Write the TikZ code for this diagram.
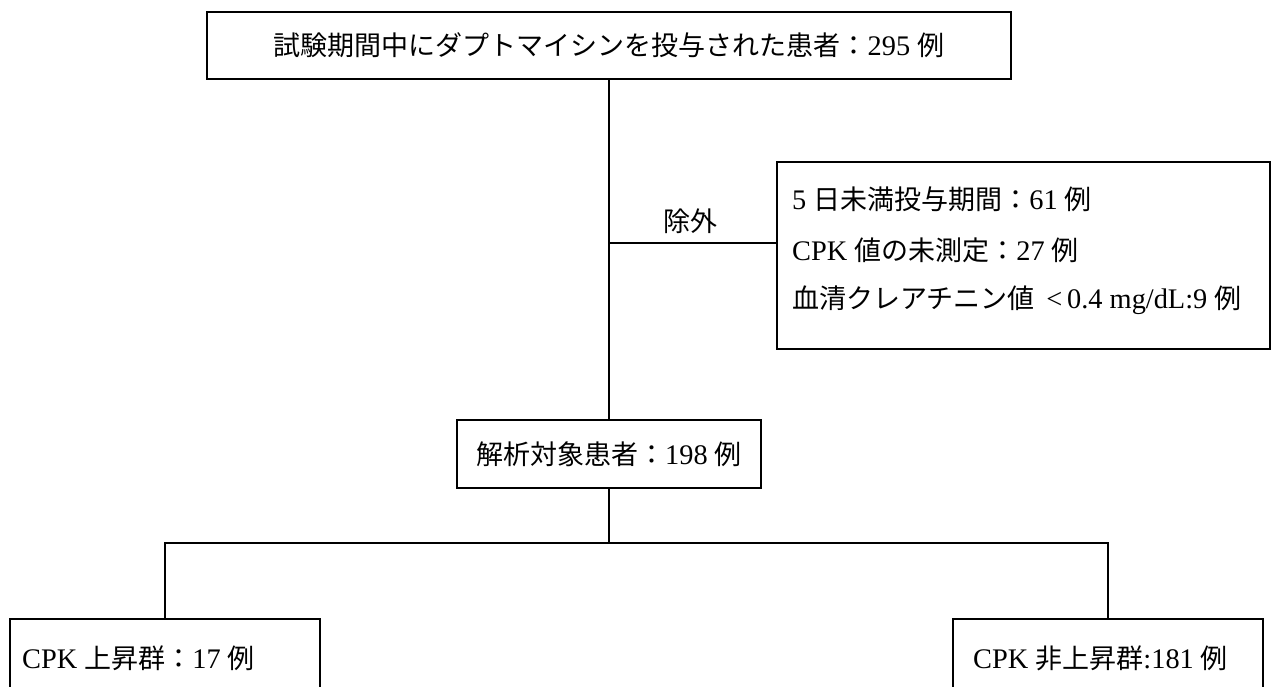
\documentclass[tikz,border=0pt]{standalone}
\usepackage{fontspec}
\setmainfont{Liberation Serif}[Scale=1.05]
\newfontfamily\jpfont{Noto Sans CJK JP}
\newcommand{\jp}[1]{{\jpfont #1}}
\begin{document}
\begin{tikzpicture}[x=1pt,y=-1pt,
  box/.style={draw, line width=1.3pt, inner sep=0pt, font=\fontsize{27}{31}\selectfont},
  lbl/.style={inner sep=0pt, font=\fontsize{27}{31}\selectfont},
  conn/.style={line width=1.3pt}]
\useasboundingbox (0,0) rectangle (1274,687);
\node[box, minimum width=804pt, minimum height=67pt] (top) at (609,45.5)
  {\jp{試験期間中にダプトマイシンを投与された患者：}295 \jp{例}};
\node[box, minimum width=493pt, minimum height=187pt] (excl) at (1023.5,255.5) {};
\node[lbl, anchor=base west] (e1) at (792,210) {5 \jp{日未満投与期間：}61 \jp{例}};
\node[lbl, anchor=base west] (e2) at (792,260) {CPK \jp{値の未測定：}27 \jp{例}};
\node[lbl, anchor=base west] (e3) at (792,308) {\jp{血清クレアチニン値} \,<\,0.4 mg/dL:9 \jp{例}};
\node[box, minimum width=304pt, minimum height=68pt] (mid) at (609,454)
  {\jp{解析対象患者：}198 \jp{例}};
\node[box, minimum width=310pt, minimum height=80pt] (left) at (165,659)
  {};
\node[lbl, anchor=west] (ltxt) at (22,658) {CPK \jp{上昇群：}17 \jp{例}};
\node[box, minimum width=310pt, minimum height=80pt] (right) at (1108,659)
  {};
\node[lbl, anchor=west] (rtxt) at (973,658) {CPK \jp{非上昇群}:181 \jp{例}};
\node[lbl] (exlbl) at (690,221) {\jp{除外}};
\coordinate (j1) at (609,243);
\coordinate (j2) at (609,543);
\draw[conn] (top.south) -- (mid.north);
\draw[conn] (j1) -- (j1 -| excl.west);
\draw[conn] (mid.south) -- (j2);
\draw[conn] (left.north) |- (j2) -| (right.north);
\end{tikzpicture}
\end{document}
